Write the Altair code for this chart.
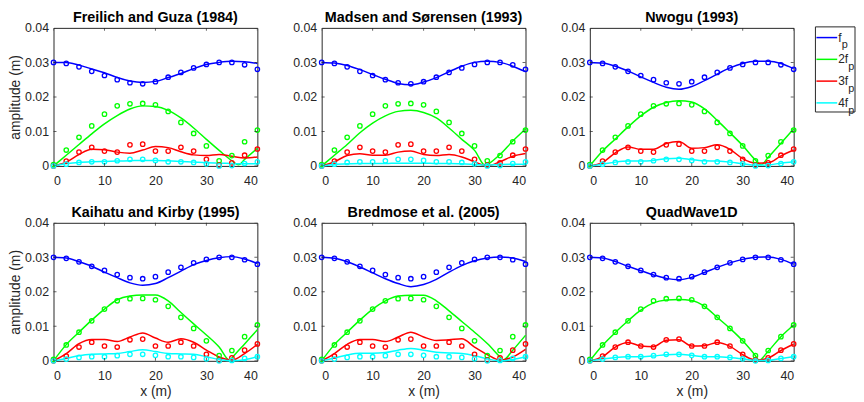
import altair as alt
import pandas as pd

FONT = "Liberation Sans"
AX_COLOR = "#262626"

TITLES = ["Freilich and Guza (1984)", "Madsen and Sørensen (1993)", "Nwogu (1993)",
          "Kaihatu and Kirby (1995)", "Bredmose et al. (2005)", "QuadWave1D"]
SERIES = ["f_p", "2f_p", "3f_p", "4f_p"]
LEG_MAIN = ["f", "2f", "3f", "4f"]
COLORS = ["#0000ff", "#00ff00", "#ff0000", "#00ffff"]
X_TICKS = [0, 10, 20, 30, 40]
Y_TICKS = [0, 0.01, 0.02, 0.03, 0.04]

# measured amplitudes (circles), identical in every panel
X_OBS = [0, 2.5, 5, 7.5, 10, 12.5, 15, 17.5, 20, 22.5, 25, 27.5, 30, 32.5, 35, 37.5, 40]
OBS_F1 = [0.0300, 0.0297, 0.0287, 0.0274, 0.0262, 0.0250, 0.0241, 0.0238, 0.0244, 0.0257, 0.0271, 0.0284, 0.0294, 0.0300, 0.0300, 0.0293, 0.0280]
OBS_F2 = [0.0004, 0.0046, 0.0083, 0.0116, 0.0150, 0.0174, 0.0180, 0.0181, 0.0177, 0.0158, 0.0126, 0.0094, 0.0058, 0.0015, 0.0030, 0.0070, 0.0104]
OBS_F3 = [0.0000, 0.0014, 0.0040, 0.0054, 0.0043, 0.0040, 0.0061, 0.0063, 0.0043, 0.0043, 0.0054, 0.0043, 0.0019, 0.0002, 0.0009, 0.0031, 0.0049]
OBS_F4 = [0.0000, 0.0005, 0.0010, 0.0012, 0.0012, 0.0015, 0.0019, 0.0019, 0.0016, 0.0012, 0.0012, 0.0010, 0.0006, 0.0000, 0.0001, 0.0007, 0.0012]

# model curves, sampled at X_OBS
M1_F1 = [0.0300, 0.0300, 0.0292, 0.0281, 0.0270, 0.0256, 0.0246, 0.0242, 0.0245, 0.0256, 0.0268, 0.0282, 0.0294, 0.0300, 0.0303, 0.0302, 0.0297]
M1_F2 = [0.0000, 0.0031, 0.0062, 0.0093, 0.0122, 0.0146, 0.0165, 0.0174, 0.0172, 0.0161, 0.0139, 0.0110, 0.0077, 0.0045, 0.0015, 0.0019, 0.0051]
M1_F3 = [0.0000, 0.0011, 0.0033, 0.0048, 0.0047, 0.0040, 0.0037, 0.0046, 0.0056, 0.0053, 0.0041, 0.0032, 0.0030, 0.0033, 0.0028, 0.0023, 0.0026]
M1_F4 = [0.0000, 0.0006, 0.0010, 0.0012, 0.0013, 0.0014, 0.0015, 0.0016, 0.0016, 0.0015, 0.0013, 0.0011, 0.0009, 0.0008, 0.0007, 0.0006, 0.0006]

M2_F1 = [0.0300, 0.0298, 0.0291, 0.0279, 0.0265, 0.0251, 0.0239, 0.0235, 0.0243, 0.0256, 0.0273, 0.0289, 0.0300, 0.0303, 0.0300, 0.0289, 0.0273]
M2_F2 = [0.0000, 0.0031, 0.0062, 0.0096, 0.0124, 0.0145, 0.0158, 0.0161, 0.0155, 0.0139, 0.0110, 0.0077, 0.0045, 0.0003, 0.0033, 0.0072, 0.0107]
M2_F3 = [0.0000, 0.0012, 0.0030, 0.0035, 0.0031, 0.0031, 0.0040, 0.0043, 0.0033, 0.0030, 0.0033, 0.0026, 0.0012, 0.0000, 0.0012, 0.0028, 0.0036]
M2_F4 = [0.0000, 0.0004, 0.0006, 0.0007, 0.0007, 0.0007, 0.0008, 0.0008, 0.0008, 0.0007, 0.0007, 0.0006, 0.0004, 0.0002, 0.0004, 0.0005, 0.0005]

M3_F1 = [0.0300, 0.0298, 0.0289, 0.0275, 0.0258, 0.0242, 0.0228, 0.0222, 0.0230, 0.0247, 0.0266, 0.0284, 0.0297, 0.0303, 0.0303, 0.0297, 0.0282]
M3_F2 = [0.0000, 0.0043, 0.0078, 0.0113, 0.0145, 0.0170, 0.0184, 0.0189, 0.0185, 0.0165, 0.0132, 0.0096, 0.0059, 0.0017, 0.0025, 0.0066, 0.0107]
M3_F3 = [0.0000, 0.0010, 0.0038, 0.0055, 0.0048, 0.0048, 0.0065, 0.0071, 0.0051, 0.0053, 0.0061, 0.0048, 0.0021, 0.0008, 0.0009, 0.0029, 0.0046]
M3_F4 = [0.0000, 0.0005, 0.0011, 0.0014, 0.0014, 0.0016, 0.0021, 0.0022, 0.0018, 0.0015, 0.0014, 0.0011, 0.0006, 0.0002, 0.0003, 0.0008, 0.0012]

M4_F1 = [0.0300, 0.0298, 0.0287, 0.0274, 0.0257, 0.0241, 0.0226, 0.0219, 0.0224, 0.0241, 0.0260, 0.0279, 0.0291, 0.0299, 0.0302, 0.0295, 0.0282]
M4_F2 = [0.0000, 0.0047, 0.0083, 0.0118, 0.0150, 0.0177, 0.0188, 0.0191, 0.0191, 0.0174, 0.0140, 0.0107, 0.0075, 0.0040, 0.0008, 0.0049, 0.0090]
M4_F3 = [0.0000, 0.0021, 0.0050, 0.0062, 0.0062, 0.0056, 0.0069, 0.0081, 0.0066, 0.0054, 0.0064, 0.0054, 0.0031, 0.0011, 0.0002, 0.0021, 0.0048]
M4_F4 = [0.0000, 0.0007, 0.0015, 0.0019, 0.0020, 0.0021, 0.0027, 0.0032, 0.0027, 0.0021, 0.0020, 0.0019, 0.0012, 0.0004, 0.0000, 0.0003, 0.0012]

M5_F1 = [0.0300, 0.0297, 0.0287, 0.0272, 0.0255, 0.0238, 0.0224, 0.0215, 0.0221, 0.0236, 0.0257, 0.0276, 0.0290, 0.0298, 0.0301, 0.0298, 0.0288]
M5_F2 = [0.0000, 0.0047, 0.0083, 0.0118, 0.0150, 0.0174, 0.0188, 0.0190, 0.0190, 0.0174, 0.0145, 0.0114, 0.0083, 0.0050, 0.0011, 0.0031, 0.0074]
M5_F3 = [0.0000, 0.0021, 0.0048, 0.0062, 0.0062, 0.0056, 0.0069, 0.0083, 0.0069, 0.0059, 0.0061, 0.0064, 0.0040, 0.0018, 0.0002, 0.0011, 0.0033]
M5_F4 = [0.0000, 0.0008, 0.0017, 0.0022, 0.0022, 0.0024, 0.0031, 0.0036, 0.0031, 0.0025, 0.0023, 0.0021, 0.0015, 0.0006, 0.0000, 0.0004, 0.0011]

M6_F1 = [0.0300, 0.0298, 0.0288, 0.0274, 0.0261, 0.0249, 0.0239, 0.0235, 0.0242, 0.0256, 0.0271, 0.0284, 0.0294, 0.0300, 0.0301, 0.0294, 0.0280]
M6_F2 = [0.0000, 0.0045, 0.0082, 0.0116, 0.0147, 0.0168, 0.0176, 0.0178, 0.0175, 0.0158, 0.0126, 0.0094, 0.0058, 0.0015, 0.0028, 0.0070, 0.0104]
M6_F3 = [0.0000, 0.0012, 0.0040, 0.0053, 0.0043, 0.0041, 0.0060, 0.0061, 0.0043, 0.0044, 0.0053, 0.0042, 0.0018, 0.0002, 0.0008, 0.0030, 0.0048]
M6_F4 = [0.0000, 0.0005, 0.0010, 0.0012, 0.0012, 0.0014, 0.0018, 0.0019, 0.0016, 0.0012, 0.0012, 0.0010, 0.0006, 0.0001, 0.0001, 0.0007, 0.0012]

# minimum (notch) of the 2f_p model curve in each panel
NOTCH_X = [36.3, 32.2, 33.6, 34.6, 35.6, 33.2]
NOTCH_Y = [0.0003, 0.0000, 0.0003, 0.0001, 0.0002, 0.0002]

OBS = [OBS_F1, OBS_F2, OBS_F3, OBS_F4]
MODELS = [
    [M1_F1, M1_F2, M1_F3, M1_F4],
    [M2_F1, M2_F2, M2_F3, M2_F4],
    [M3_F1, M3_F2, M3_F3, M3_F4],
    [M4_F1, M4_F2, M4_F3, M4_F4],
    [M5_F1, M5_F2, M5_F3, M5_F4],
    [M6_F1, M6_F2, M6_F3, M6_F4],
]

obs_rows = []
for s, vals in zip(SERIES, OBS):
    for x, y in zip(X_OBS, vals):
        obs_rows.append({"series": s, "x": x, "y": y})
obs_df = pd.DataFrame(obs_rows)


def model_df(k):
    rows = []
    for s, vals in zip(SERIES, MODELS[k]):
        for x, y in zip(X_OBS, vals):
            rows.append({"series": s, "x": x, "y": y})
    rows.append({"series": "2f_p", "x": NOTCH_X[k], "y": NOTCH_Y[k]})
    return pd.DataFrame(rows).sort_values(["series", "x"])


color = alt.Color("series:N", scale=alt.Scale(domain=SERIES, range=COLORS), legend=None)
xsc = alt.Scale(domain=[0, 40], nice=False, zero=False)
ysc = alt.Scale(domain=[0, 0.04], nice=False)

xt_df = pd.DataFrame({"x": X_TICKS})
yt_df = pd.DataFrame({"y": Y_TICKS})

# legend table (drawn inside the top-right panel, outside its plot area)
leg_df = pd.DataFrame({"series": SERIES, "label": LEG_MAIN, "idx": [0, 1, 2, 3]})
box_df = pd.DataFrame({"b": [0]})


def legend_layers():
    base = alt.Chart(leg_df).transform_calculate(
        ly="9.8 + 22*datum.idx", lx0="229", lx1="250", tx="251",
        sx="251 + 6.6*length(datum.label) - 3.0")
    ly = alt.Y("ly:Q", scale=None)
    box = alt.Chart(box_df).mark_rect(fillOpacity=0, stroke=AX_COLOR, strokeWidth=1).encode(
        x=alt.value(228), x2=alt.value(268), y=alt.value(-1), y2=alt.value(85))
    lines = base.mark_rule(strokeWidth=1.5).encode(
        x=alt.X("lx0:Q", scale=None), x2="lx1:Q", y=ly, color=color)
    text = base.mark_text(align="left", baseline="middle", font=FONT, fontSize=12,
                          color=AX_COLOR).encode(x=alt.X("tx:Q", scale=None), y=ly, text="label:N")
    sub = base.mark_text(align="left", baseline="middle", font=FONT, fontSize=11,
                         color=AX_COLOR, dy=8, text="p").encode(x=alt.X("sx:Q", scale=None), y=ly)
    return [box, lines, text, sub]


def make_panel(k, left, bottom, with_legend=False):
    xax = dict(values=X_TICKS, tickCount=5, labelPadding=9, labelOverlap=False,
               title=("x (m)" if bottom else None), titlePadding=3)
    yax = dict(values=Y_TICKS, tickCount=5, format=".2~f", labelPadding=5, labelOverlap=False,
               title=("amplitude (m)" if left else None), titlePadding=2)
    X = alt.X("x:Q", scale=xsc, axis=alt.Axis(**xax))
    Y = alt.Y("y:Q", scale=ysc, axis=alt.Axis(**yax))

    lines = alt.Chart(model_df(k)).mark_line(strokeWidth=1.5, interpolate="monotone").encode(
        x=X, y=Y, color=color)
    pts = alt.Chart(obs_df).mark_point(shape="circle", filled=False, size=20, strokeWidth=1.3,
                                       opacity=1).encode(x=X, y=Y, color=color)
    tick_top = alt.Chart(xt_df).mark_tick(orient="vertical", size=6, thickness=1, clip=True,
                                          color=AX_COLOR).encode(x=X, y=alt.datum(0.04))
    tick_bot = alt.Chart(xt_df).mark_tick(orient="vertical", size=6, thickness=1, clip=True,
                                          color=AX_COLOR).encode(x=X, y=alt.datum(0))
    tick_l = alt.Chart(yt_df).mark_tick(orient="horizontal", size=6, thickness=1, clip=True,
                                        color=AX_COLOR).encode(y=Y, x=alt.datum(0))
    tick_r = alt.Chart(yt_df).mark_tick(orient="horizontal", size=6, thickness=1, clip=True,
                                        color=AX_COLOR).encode(y=Y, x=alt.datum(40))
    title = alt.Chart(pd.DataFrame({"t": [TITLES[k]]})).mark_text(
        align="center", baseline="alphabetic", font=FONT, fontSize=14.5, fontWeight="bold",
        color="#000000").encode(x=alt.datum(20), y=alt.value(-6), text="t:N")
    layers = [lines, pts, tick_top, tick_bot, tick_l, tick_r, title]
    if with_legend:
        layers += legend_layers()
    return alt.layer(*layers).properties(width=206, height=139.5)


panels = [
    make_panel(0, True, False), make_panel(1, False, False), make_panel(2, False, False, True),
    make_panel(3, True, True), make_panel(4, False, True), make_panel(5, False, True),
]

chart = alt.concat(*panels, columns=3, spacing={"row": 57, "column": 65}, bounds="flush").properties(
    padding={"top": -1, "left": 0, "right": 0, "bottom": 0}
).configure_axis(
    labelFont=FONT, labelFontSize=12.5, labelColor=AX_COLOR,
    titleFont=FONT, titleFontSize=14, titleFontWeight="normal", titleColor=AX_COLOR,
    domain=False, ticks=False, grid=False, labelOverlap=False,
).configure_view(stroke=AX_COLOR, strokeWidth=1)

chart.save("out.html", embed_options={"renderer": "svg", "actions": False})
